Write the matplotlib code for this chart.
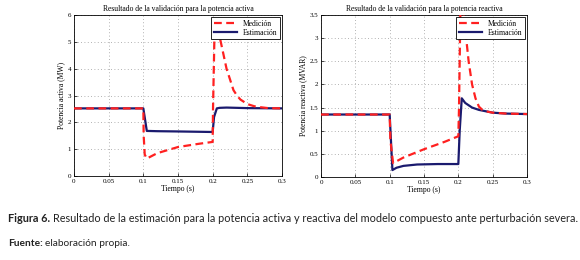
import matplotlib
matplotlib.use("Agg")
import matplotlib.pyplot as plt

# Active power (MW)
t_med_p = [0, 0.1, 0.1005, 0.102, 0.105, 0.12, 0.15, 0.18, 0.2, 0.2005, 0.203, 0.206, 0.21, 0.215, 0.22, 0.225, 0.23, 0.235, 0.24, 0.25, 0.26, 0.27, 0.28, 0.3]
v_med_p = [2.52, 2.52, 1.5, 0.8, 0.65, 0.85, 1.08, 1.2, 1.27, 2.5, 5.8, 5.5, 5.2, 4.6, 4.0, 3.6, 3.2, 3.0, 2.85, 2.68, 2.6, 2.56, 2.53, 2.52]
t_est_p = [0, 0.1, 0.105, 0.12, 0.15, 0.2, 0.202, 0.206, 0.21, 0.22, 0.25, 0.3]
v_est_p = [2.52, 2.52, 1.68, 1.67, 1.66, 1.64, 2.2, 2.52, 2.54, 2.55, 2.53, 2.52]

# Reactive power (MVAR)
t_med_q = [0, 0.1, 0.101, 0.105, 0.12, 0.15, 0.18, 0.2, 0.201, 0.203, 0.206, 0.21, 0.215, 0.22, 0.225, 0.23, 0.235, 0.24, 0.25, 0.27, 0.3]
v_med_q = [1.35, 1.35, 0.8, 0.3, 0.42, 0.6, 0.76, 0.88, 1.5, 3.6, 3.8, 3.2, 2.5, 2.0, 1.7, 1.52, 1.45, 1.42, 1.39, 1.37, 1.36]
t_est_q = [0, 0.1, 0.104, 0.11, 0.12, 0.14, 0.17, 0.2, 0.202, 0.205, 0.21, 0.22, 0.23, 0.25, 0.27, 0.3]
v_est_q = [1.35, 1.35, 0.15, 0.2, 0.24, 0.27, 0.28, 0.28, 1.0, 1.7, 1.6, 1.5, 1.45, 1.39, 1.37, 1.36]

xticks = [0, 0.05, 0.1, 0.15, 0.2, 0.25, 0.3]
xticklabels = ["0", "0.05", "0.1", "0.15", "0.2", "0.25", "0.3"]
yticks_p = [0, 1, 2, 3, 4, 5, 6]
yticks_q = [0, 0.5, 1, 1.5, 2, 2.5, 3, 3.5]

serif = ["Liberation Serif", "DejaVu Serif"]
fig = plt.figure(figsize=(5.8, 2.6), dpi=100)

def make(ax, tm, vm, te, ve, yt, ymax, title, ylabel):
    ax.plot(tm, vm, color="#ff2020", ls=(0, (3.5, 2.0)), lw=1.6, label="Medición", zorder=3)
    ax.plot(te, ve, color="#1a1a6e", ls="-", lw=1.6, label="Estimación", zorder=2)
    ax.set_xlim(0, 0.3)
    ax.set_ylim(0, ymax)
    ax.set_xticks(xticks)
    ax.set_xticklabels(xticklabels)
    ax.set_yticks(yt)
    ax.set_yticklabels([f"{y:g}" for y in yt])
    ax.grid(True, ls=(0, (1, 3)), color="#999999", lw=0.6)
    ax.tick_params(labelsize=5, length=2, width=0.5, direction="in", pad=2)
    for lab in ax.get_xticklabels() + ax.get_yticklabels():
        lab.set_family(serif)
    for s in ax.spines.values():
        s.set_linewidth(0.6)
    ax.set_title(title, fontsize=5.5, family=serif, pad=3)
    ax.set_xlabel("Tiempo (s)", fontsize=5.5, family=serif, labelpad=1)
    ax.set_ylabel(ylabel, fontsize=5.5, family=serif, labelpad=2)
    leg = ax.legend(loc="upper right", prop={"family": serif, "size": 5.5}, fancybox=False,
                    framealpha=1, edgecolor="black", handlelength=3.0, borderpad=0.3,
                    labelspacing=0.2, borderaxespad=0.3)
    leg.get_frame().set_linewidth(0.6)

ax1 = fig.add_axes([74/580, 1-176/260, (282-74)/580, (176-15)/260])
make(ax1, t_med_p, v_med_p, t_est_p, v_est_p, yticks_p, 6,
     "Resultado de la validación para la potencia activa", "Potencia activa (MW)")
ax2 = fig.add_axes([321/580, 1-177/260, (527-321)/580, (177-15)/260])
make(ax2, t_med_q, v_med_q, t_est_q, v_est_q, yticks_q, 3.5,
     "Resultado de la validación para la potencia reactiva", "Potencia reactiva (MVAR)")

sans = ["Lato", "DejaVu Sans"]
renderer = fig.canvas.get_renderer()

def two_part(x0, y, bold, rest, size):
    t1 = fig.text(x0/580, 1-y/260, bold, fontsize=size, family=sans, weight="bold", color="#222222", va="center")
    w1 = t1.get_window_extent(renderer).width
    t2 = fig.text((x0 + w1 + 2.5)/580, 1-y/260, rest, fontsize=size, family=sans, color="#222222", va="center")
    return t1, t2

def fitted(x0, y, bold, rest, size, target_right):
    t1, t2 = two_part(x0, y, bold, rest, size)
    right = t2.get_window_extent(renderer).x1
    scale = (target_right - x0) / (right - x0)
    t1.remove(); t2.remove()
    return two_part(x0, y, bold, rest, size * scale)

fitted(8, 218, "Figura 6.", "Resultado de la estimación para la potencia activa y reactiva del modelo compuesto ante perturbación severa.", 7.2, 576)
fitted(8, 243, "Fuente:", "elaboración propia.", 6.3, 130)

fig.savefig("out.png", dpi=100)
